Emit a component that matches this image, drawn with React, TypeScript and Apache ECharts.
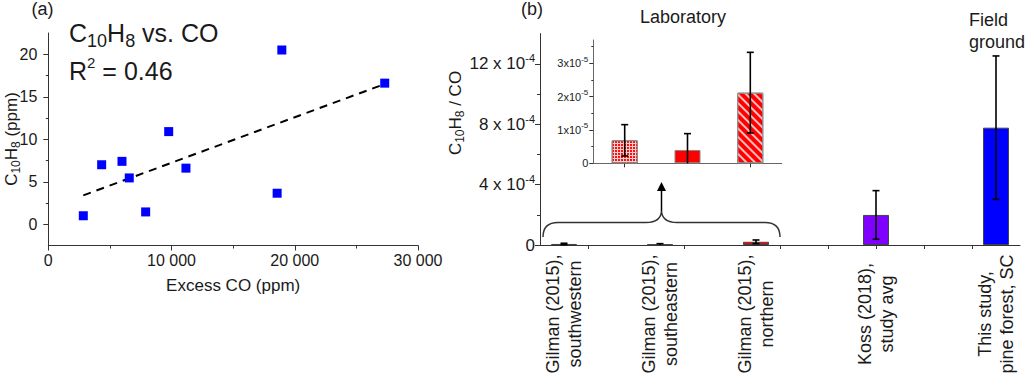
import React, { useEffect, useRef } from "react";
import * as echarts from "echarts";

// ---------- Panel (a) data ----------
const SCATTER_CO = [2840, 4330, 5980, 6570, 7900, 9770, 11170, 18570, 18950, 27300];
const SCATTER_C10H8 = [1.0, 7.0, 7.4, 5.45, 1.45, 10.9, 6.6, 3.65, 20.5, 16.6];
const FIT_CO = [2840, 27300];
const FIT_C10H8 = [3.4, 16.5];
const A_Y_TICKS = [0, 5, 10, 15, 20];
const A_Y_MINOR = [2.5, 7.5, 12.5, 17.5];

// ---------- Panel (b) data ----------
const B_LABELS = [
  "Gilman (2015),\nsouthwestern",
  "Gilman (2015),\nsoutheastern",
  "Gilman (2015),\nnorthern",
  "Koss (2018),\nstudy avg",
  "This study,\npine forest, SC",
];
const B_X = [0.5, 2.5, 4.5, 7, 9.5];
const B_RATIO = [6.9e-6, 4.0e-6, 2.12e-5, 1.99e-4, 7.77e-4];
const B_ERR = [4.7e-6, 4.9e-6, 1.21e-5, 1.61e-4, 4.75e-4];
const B_X_TICKS = [1, 3, 5, 6, 7, 8, 9];
const B_Y_TICKS = [0, 4e-4, 8e-4, 12e-4];
const B_Y_MINOR = [2e-4, 6e-4, 10e-4];

// inset (laboratory)
const LAB_CATS = ["southwestern", "southeastern", "northern"];
const LAB_RATIO = [6.9e-6, 4.0e-6, 2.12e-5];
const LAB_ERR = [4.7e-6, 4.9e-6, 1.21e-5];
const INSET_Y_TICKS = [0, 1e-5, 2e-5, 3e-5];
const INSET_Y_MINOR = [0.5e-5, 1.5e-5, 2.5e-5, 3.5e-5];

const FONT = "'Liberation Sans', Arial, 'DejaVu Sans', sans-serif";
const AX = "#333";
const TXT = "#1a1a1a";

const BRACE_D =
  "M543 237 C543 228 548 222.5 558 222.5 L646 222.5 C655 222.5 661 219 661.5 211 C662 219 668 222.5 677 222.5 L765 222.5 C775 222.5 780 228 780 237";
echarts.graphic.registerShape("brace", echarts.graphic.extendPath(BRACE_D, {}));

const gridDecal = {
  symbol: "rect",
  symbolSize: 1,
  dashArrayX: [2, 1],
  dashArrayY: [2, 1],
  color: "#FF1010",
};
const stripeDecal = {
  symbol: "rect",
  symbolSize: 1,
  dashArrayX: [1, 0],
  dashArrayY: [1.5, 4],
  rotation: Math.PI / 4,
  color: "rgba(255,255,255,0.75)",
};
const INSET_STYLES = [
  { color: "#FFD0D0", decal: gridDecal },
  { color: "#FF0000", decal: "none" },
  { color: "#FF0000", decal: stripeDecal },
];
const MAIN_COLORS = ["#FF0000", "#FF0000", "#FF0000", "#8000FF", "#0000FF"];

const errRender = (params: any, api: any) => {
  const x = api.value(0);
  const y = api.value(1);
  const e = api.value(2);
  const lo = Math.max(0, y - e);
  const hi = y + e;
  const pHi = api.coord([x, hi]);
  const pLo = api.coord([x, lo]);
  const cap = 3.5;
  const st = { stroke: "#000", lineWidth: 1.6 };
  const children: any[] = [
    { type: "line", shape: { x1: pHi[0], y1: pHi[1], x2: pLo[0], y2: pLo[1] }, style: st },
    { type: "line", shape: { x1: pHi[0] - cap, y1: pHi[1], x2: pHi[0] + cap, y2: pHi[1] }, style: st },
  ];
  if (y - e >= 0) {
    children.push({ type: "line", shape: { x1: pLo[0] - cap, y1: pLo[1], x2: pLo[0] + cap, y2: pLo[1] }, style: st });
  }
  return { type: "group", children };
};

const axLine = { show: true, onZero: false, lineStyle: { color: AX, width: 1 } };
const tickStyle = { color: AX, width: 1 };

const supRich = (n: number, s: number) => ({
  n: { fontSize: n, lineHeight: n + 5, color: TXT, fontFamily: FONT },
  s: { fontSize: s, lineHeight: s + 2, verticalAlign: "top", color: TXT, fontFamily: FONT },
});

const option: any = {
  animation: false,
  backgroundColor: "#fff",
  textStyle: { fontFamily: FONT },
  grid: [
    { left: 48.3, top: 33, width: 369.7, height: 212.5 },
    { left: 540, top: 33.6, width: 480, height: 211.4 },
    { left: 593.3, top: 40, width: 188.4, height: 123.3 },
  ],
  xAxis: [
    {
      type: "value",
      gridIndex: 0,
      min: 0,
      max: 30000,
      interval: 10000,
      axisLine: axLine,
      axisTick: { show: true, length: 5, lineStyle: tickStyle },
      minorTick: { show: true, splitNumber: 2, length: 3, lineStyle: tickStyle },
      splitLine: { show: false },
      minorSplitLine: { show: false },
      axisLabel: {
        fontSize: 16,
        color: TXT,
        margin: 7,
        formatter: (v: number) => (v === 0 ? "0" : `${v / 1000} 000`),
      },
      name: "Excess CO (ppm)",
      nameLocation: "middle",
      nameGap: 31,
      nameTextStyle: { fontSize: 17, color: TXT },
    },
    {
      type: "value",
      gridIndex: 1,
      min: 0,
      max: 10,
      axisLine: axLine,
      axisTick: { show: true, length: 4, customValues: B_X_TICKS, lineStyle: tickStyle },
      splitLine: { show: false },
      axisLabel: {
        customValues: B_X,
        rotate: 90,
        align: "center",
        verticalAlign: "middle",
        margin: 69,
        fontSize: 18,
        lineHeight: 22,
        color: TXT,
        formatter: (v: number) => {
          const i = B_X.indexOf(v);
          return i >= 0 ? B_LABELS[i] : "";
        },
      },
    },
    {
      type: "category",
      gridIndex: 2,
      data: LAB_CATS,
      axisLine: { ...axLine, lineStyle: { color: "#666", width: 1 } },
      axisTick: { show: true, alignWithLabel: true, length: 4, lineStyle: tickStyle },
      axisLabel: { show: false },
    },
  ],
  yAxis: [
    {
      type: "value",
      gridIndex: 0,
      position: "left",
      min: -2.5,
      max: 22.5,
      axisLine: axLine,
      axisTick: { show: true, length: 5, customValues: A_Y_TICKS, lineStyle: tickStyle },
      axisLabel: { customValues: A_Y_TICKS, fontSize: 16, color: TXT, margin: 11 },
      splitLine: { show: false },
    },
    {
      type: "value",
      gridIndex: 0,
      position: "left",
      min: -2.5,
      max: 22.5,
      axisLine: { show: false, onZero: false },
      axisTick: { show: true, length: 2.5, customValues: A_Y_MINOR, lineStyle: tickStyle },
      axisLabel: { show: false },
      splitLine: { show: false },
    },
    {
      type: "value",
      gridIndex: 1,
      position: "left",
      min: 0,
      max: 14e-4,
      axisLine: axLine,
      axisTick: { show: true, length: 5, customValues: B_Y_TICKS, lineStyle: tickStyle },
      axisLabel: {
        customValues: B_Y_TICKS,
        margin: 5,
        formatter: (v: number) => {
          const k = Math.round(v * 1e4);
          return k === 0 ? "{n|0}" : `{n|${k} x 10}{s|-4}`;
        },
        rich: supRich(17, 11),
      },
      splitLine: { show: false },
    },
    {
      type: "value",
      gridIndex: 1,
      position: "left",
      min: 0,
      max: 14e-4,
      axisLine: { show: false, onZero: false },
      axisTick: { show: true, length: 3, customValues: B_Y_MINOR, lineStyle: tickStyle },
      axisLabel: { show: false },
      splitLine: { show: false },
    },
    {
      type: "value",
      gridIndex: 2,
      position: "left",
      min: 0,
      max: 3.7e-5,
      axisLine: { ...axLine, lineStyle: { color: "#666", width: 1 } },
      axisTick: { show: true, length: 4, customValues: INSET_Y_TICKS, lineStyle: tickStyle },
      axisLabel: {
        customValues: INSET_Y_TICKS,
        margin: 5,
        formatter: (v: number) => {
          const k = Math.round(v * 1e5);
          return k === 0 ? "{n|0}" : `{n|${k}x10}{s|-5}`;
        },
        rich: supRich(11, 8),
      },
      splitLine: { show: false },
    },
    {
      type: "value",
      gridIndex: 2,
      position: "left",
      min: 0,
      max: 3.7e-5,
      axisLine: { show: false, onZero: false },
      axisTick: { show: true, length: 2, customValues: INSET_Y_MINOR, lineStyle: tickStyle },
      axisLabel: { show: false },
      splitLine: { show: false },
    },
  ],
  series: [
    {
      type: "line",
      xAxisIndex: 0,
      yAxisIndex: 0,
      data: FIT_CO.map((x, i) => [x, FIT_C10H8[i]]),
      symbol: "none",
      lineStyle: { color: "#000", width: 2, type: [8, 6] },
      z: 2,
    },
    {
      type: "scatter",
      xAxisIndex: 0,
      yAxisIndex: 0,
      data: SCATTER_CO.map((x, i) => [x, SCATTER_C10H8[i]]),
      symbol: "rect",
      symbolSize: 9,
      itemStyle: { color: "#0000FF", opacity: 1 },
      z: 3,
    },
    {
      type: "bar",
      xAxisIndex: 1,
      yAxisIndex: 2,
      barWidth: 26,
      data: B_X.map((x, i) => ({
        value: [x, B_RATIO[i]],
        itemStyle: { color: MAIN_COLORS[i], borderColor: "#444", borderWidth: 1 },
      })),
      z: 2,
    },
    {
      type: "custom",
      xAxisIndex: 1,
      yAxisIndex: 2,
      renderItem: errRender,
      data: B_X.map((x, i) => [x, B_RATIO[i], B_ERR[i]]),
      z: 4,
    },
    {
      type: "bar",
      xAxisIndex: 2,
      yAxisIndex: 4,
      barWidth: 26,
      data: LAB_RATIO.map((v, i) => ({
        value: v,
        itemStyle: { ...INSET_STYLES[i], borderColor: "#888", borderWidth: 1 },
      })),
      z: 2,
    },
    {
      type: "custom",
      xAxisIndex: 2,
      yAxisIndex: 4,
      renderItem: errRender,
      data: LAB_RATIO.map((v, i) => [i, v, LAB_ERR[i]]),
      z: 4,
    },
  ],
  graphic: [
    {
      type: "text",
      x: 42.5,
      y: 9,
      style: { text: "(a)", fontSize: 18, fill: TXT, fontFamily: FONT, align: "center", verticalAlign: "middle" },
    },
    {
      type: "text",
      x: 532,
      y: 9,
      style: { text: "(b)", fontSize: 18, fill: TXT, fontFamily: FONT, align: "center", verticalAlign: "middle" },
    },
    {
      type: "text",
      x: 69,
      y: 15,
      style: {
        text: "{n|C}{b|10}{n|H}{b|8}{n| vs. CO}",
        fill: TXT,
        fontFamily: FONT,
        rich: {
          n: { fontSize: 25, lineHeight: 35, fill: TXT, fontFamily: FONT },
          b: { fontSize: 18, lineHeight: 18, verticalAlign: "bottom", fill: TXT, fontFamily: FONT },
        },
      },
    },
    {
      type: "text",
      x: 69,
      y: 55,
      style: {
        text: "{n|R}{p|2}{n| = 0.46}",
        fill: TXT,
        fontFamily: FONT,
        rich: {
          n: { fontSize: 25, lineHeight: 31, fill: TXT, fontFamily: FONT },
          p: { fontSize: 15, lineHeight: 15, verticalAlign: "top", fill: TXT, fontFamily: FONT },
        },
      },
    },
    {
      type: "text",
      x: 11,
      y: 139,
      rotation: Math.PI / 2,
      style: {
        text: "{n|C}{b|10}{n|H}{b|8}{n| (ppm)}",
        align: "center",
        verticalAlign: "middle",
        fill: TXT,
        fontFamily: FONT,
        rich: {
          n: { fontSize: 17, lineHeight: 22, fill: TXT, fontFamily: FONT },
          b: { fontSize: 12, lineHeight: 12, verticalAlign: "bottom", fill: TXT, fontFamily: FONT },
        },
      },
    },
    {
      type: "text",
      x: 455,
      y: 113,
      rotation: Math.PI / 2,
      style: {
        text: "{n|C}{b|10}{n|H}{b|8}{n| / CO}",
        align: "center",
        verticalAlign: "middle",
        fill: TXT,
        fontFamily: FONT,
        rich: {
          n: { fontSize: 17, lineHeight: 22, fill: TXT, fontFamily: FONT },
          b: { fontSize: 12, lineHeight: 12, verticalAlign: "bottom", fill: TXT, fontFamily: FONT },
        },
      },
    },
    {
      type: "text",
      x: 683,
      y: 17,
      style: { text: "Laboratory", fontSize: 18, fill: TXT, fontFamily: FONT, align: "center", verticalAlign: "middle" },
    },
    {
      type: "text",
      x: 969,
      y: 9,
      style: { text: "Field\nground", fontSize: 18, lineHeight: 22, fill: TXT, fontFamily: FONT, align: "left", verticalAlign: "top" },
    },
    {
      type: "brace",
      x: 0,
      y: 0,
      style: { fill: "none", stroke: "#333", lineWidth: 1.5 },
      z: 10,
    },
    {
      type: "line",
      shape: { x1: 661.5, y1: 211, x2: 661.5, y2: 190 },
      style: { stroke: "#000", lineWidth: 1.5 },
      z: 10,
    },
    {
      type: "polygon",
      shape: { points: [[657, 191], [666, 191], [661.5, 182]] },
      style: { fill: "#000" },
      z: 10,
    },
  ],
};

export default function App() {
  const ref = useRef<HTMLDivElement>(null);
  useEffect(() => {
    const chart = echarts.init(ref.current!, null, { renderer: "svg" });
    chart.setOption(option);
    return () => chart.dispose();
  }, []);
  return (
    <div
      ref={ref}
      style={{ position: "absolute", left: 0, top: 0, width: 1032, height: 382, background: "#fff" }}
    />
  );
}
